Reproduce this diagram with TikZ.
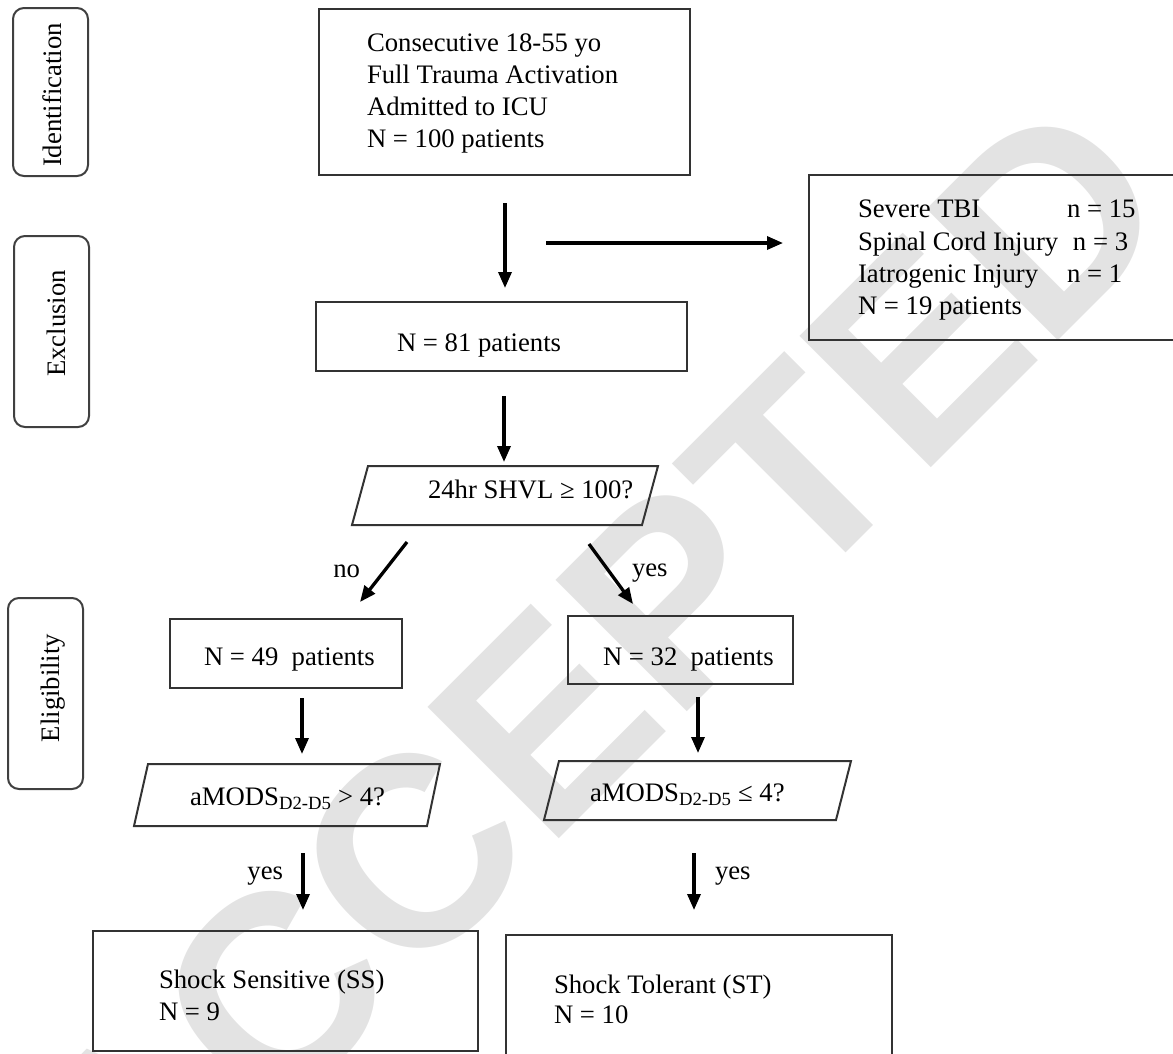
\documentclass[tikz,border=0pt]{standalone}
\usepackage{fontspec}
\setmainfont{Liberation Serif}
\newfontfamily\wmfont{Liberation Sans}
\usetikzlibrary{arrows.meta,calc}
\begin{document}
\begin{tikzpicture}[x=1pt,y=-1pt,
  every node/.style={inner sep=0pt,outer sep=0pt},
  box/.style={draw=black!80,line width=2pt},
  sidebox/.style={draw=black!75,line width=2pt,rounded corners=11pt,minimum width=75pt,minimum height=168pt},
  txt/.style={font=\fontsize{26.7}{32.2}\selectfont,align=left},
  sidetxt/.style={font=\fontsize{26.7}{32.2}\selectfont,rotate=90,anchor=base},
  arr/.style={line width=3.3pt,-{Triangle[length=16pt,width=13pt]}},
  wm/.style={font=\wmfont\bfseries\fontsize{270}{270}\selectfont,text=black!11},
]
\useasboundingbox (0,0) rectangle (1173,1053);
% watermark
\node[wm,rotate=45] (water) at (592.5,674.5) {ACCEPTED};

% side labels
\node[sidebox] (sid) at (50.5,92) {};
\node[sidetxt] (sidt) at (61.7,95) {Identification};
\node[sidebox,minimum height=191pt] (sex) at (51.5,331.5) {};
\node[sidetxt] (sext) at (65.5,323.3) {Exclusion};
\node[sidebox,minimum height=191pt] (sel) at (45.5,693.5) {};
\node[sidetxt] (selt) at (59.5,688) {Eligibility};

% boxes
\node[box,minimum width=371pt,minimum height=166pt] (top) at (504.5,92) {};
\node[txt,anchor=north west] (toptxt) at (367,33.5) {Consecutive 18-55 yo\\Full Trauma Activation\\Admitted to ICU\\N = 100 patients};

\node[box,minimum width=381pt,minimum height=165pt] (excl) at (999.5,257.5) {};
\node[txt,anchor=north west] (excltxt) at (858,200.3) {\makebox[209pt][l]{Severe TBI}n = 15\\\makebox[215pt][l]{Spinal Cord Injury}n = 3\\\makebox[209pt][l]{Iatrogenic Injury}n = 1\\N = 19 patients};

\node[box,minimum width=371pt,minimum height=69pt] (n81) at (501.5,336.5) {};
\node[txt,anchor=base west] (n81t) at (397,351.7) {N = 81 patients};

% decision 1
\coordinate (d1a) at (368,466);
\coordinate (d1b) at (658,466);
\coordinate (d1c) at (642,525);
\coordinate (d1d) at (352,525);
\draw[box] (d1a) -- (d1b) -- (d1c) -- (d1d) -- cycle;
\node[txt,anchor=base west] (d1t) at (428,498) {24hr SHVL ≥ 100?};
\coordinate (d1n) at (504,466);

\node[box,minimum width=232pt,minimum height=69pt] (n49) at (286,653.5) {};
\node[txt,anchor=base west] (n49t) at (204,665) {N = 49\ \ patients};
\node[box,minimum width=225pt,minimum height=68pt] (n32) at (680.5,650) {};
\node[txt,anchor=base west] (n32t) at (603,665) {N = 32\ \ patients};

% decision 2 left
\coordinate (dla) at (148,764);
\coordinate (dlb) at (440,764);
\coordinate (dlc) at (427,826);
\coordinate (dld) at (134,826);
\draw[box] (dla) -- (dlb) -- (dlc) -- (dld) -- cycle;
\node[txt,anchor=base west] (dlt) at (190,805.5) {aMODS\textsubscript{D2-D5} > 4?};
\coordinate (dln) at (302,764);
\coordinate (dls) at (303,826);

% decision 2 right
\coordinate (dra) at (559,761);
\coordinate (drb) at (851,761);
\coordinate (drc) at (836,820);
\coordinate (drd) at (544,820);
\draw[box] (dra) -- (drb) -- (drc) -- (drd) -- cycle;
\node[txt,anchor=base west] (drt) at (590,801.7) {aMODS\textsubscript{D2-D5} ≤ 4?};
\coordinate (drn) at (698,761);
\coordinate (drs) at (694,820);

% outcome boxes
\node[box,minimum width=385pt,minimum height=120pt] (bl) at (285.5,991) {};
\node[txt,font=\fontsize{26.7}{31.7}\selectfont,anchor=north west] (blt) at (159,970.1) {Shock Sensitive (SS)\\N = 9};
\node[box,minimum width=386pt,minimum height=135pt] (br) at (699,1002.5) {};
\node[txt,font=\fontsize{26.7}{29.4}\selectfont,anchor=north west] (brt) at (554,975.1) {Shock Tolerant (ST)\\N = 10};

% connectors
\coordinate (hs) at (546,243);
\coordinate (nos) at (407,542);
\coordinate (yess) at (589,544);
\draw[arr] ($(top.south)+(0.5,28)$) -- ($(n81.north)+(3.5,-14)$);
\draw[arr] (hs) -- ($(excl.west)+(-26,-14.5)$);
\draw[arr] ($(n81.south)+(2.5,25)$) -- ($(d1n)+(0,-4)$);
\draw[arr] (nos) -- ($(n49.north)+(74,-17)$);
\draw[arr] (yess) -- ($(n32.north)+(-47.5,-12)$);
\draw[arr] ($(n49.south)+(16,10)$) -- ($(dln)+(0,-10)$);
\draw[arr] ($(n32.south)+(17.5,13)$) -- ($(drn)+(0,-8)$);
\draw[arr] ($(dls)+(0,27)$) -- ($(bl.north)+(17.5,-21)$);
\draw[arr] ($(drs)+(0,33)$) -- ($(br.north)+(-5,-25)$);

% labels
\node[txt,anchor=base east] (nolab) at (360,577) {no};
\node[txt,anchor=base west] (yes1) at (632,576) {yes};
\node[txt,anchor=base east] (yes2) at (283,879) {yes};
\node[txt,anchor=base west] (yes3) at (715,879) {yes};
\end{tikzpicture}
\end{document}
